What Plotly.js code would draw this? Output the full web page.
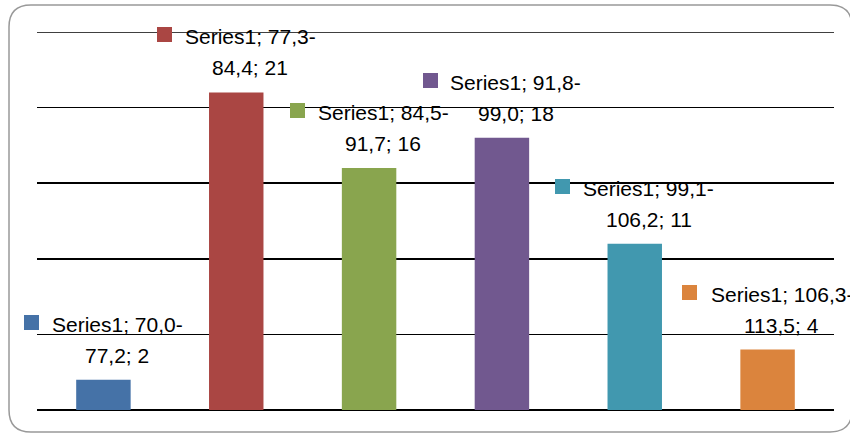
<!DOCTYPE html>
<html>
<head>
<meta charset="utf-8">
<script src="https://cdn.plot.ly/plotly-3.0.1.min.js"></script>
<style>html,body{margin:0;padding:0;background:#fff;}#chart{width:850px;height:436px;}</style>
</head>
<body>
<div id="chart"></div>
<script>
var seriesName = "Series1";
var categories = ["70,0-77,2", "77,3-84,4", "84,5-91,7", "91,8-99,0", "99,1-106,2", "106,3-113,5"];
var values = [2, 21, 16, 18, 11, 4];
var colors = ["#4572A7", "#AA4643", "#89A54E", "#71588F", "#4198AF", "#DB843D"];
var yMax = 25;

var FONT = "Liberation Sans";
var FS = 21;
var W = 850, H = 436;
var mL = 37, mR = 16, mT = 32, mB = 26;

var canvas = document.createElement("canvas");
var ctx = canvas.getContext("2d");
ctx.font = FS + "px '" + FONT + "'";

var xIdx = categories.map(function (c, i) { return i; });

var annotations = [];
var shapes = [];
categories.forEach(function (cat, i) {
  var dash = cat.indexOf("-");
  var line1 = seriesName + "; " + cat.slice(0, dash + 1);
  var line2 = cat.slice(dash + 1) + "; " + values[i];
  var w = ctx.measureText(line1).width;
  annotations.push({
    x: i, y: values[i], xref: "x", yref: "y", text: line1, showarrow: false,
    xanchor: "center", yanchor: "bottom", xshift: 14, yshift: 42,
    font: {family: FONT, size: FS, color: "#000"}
  });
  annotations.push({
    x: i, y: values[i], xref: "x", yref: "y", text: line2, showarrow: false,
    xanchor: "center", yanchor: "bottom", xshift: 14, yshift: 11,
    font: {family: FONT, size: FS, color: "#000"}
  });
  // legend key square
  annotations.push({
    x: i, y: values[i], xref: "x", yref: "y", text: " ", showarrow: false,
    xanchor: "right", yanchor: "bottom", xshift: 14 - w / 2 - 13, yshift: 50,
    width: 15, height: 15, borderpad: 0, borderwidth: 0, bgcolor: colors[i],
    font: {family: FONT, size: 10, color: colors[i]}
  });
});

// top gridline (at the axis maximum)
shapes.push({type: "line", xref: "paper", yref: "y", x0: 0, x1: 1, y0: yMax, y1: yMax,
  line: {color: "#000", width: 1.5}, layer: "below"});

// outer rounded border (pixel -> paper)
function px(x) { return (x - mL) / (W - mL - mR); }
function py(y) { return 1 - (y - mT) / (H - mT - mB); }
var bx0 = 9, by0 = 5, bx1 = 852, by1 = 432, r = 22;
var path = "M " + px(bx0 + r) + "," + py(by0) +
  " L " + px(bx1 - r) + "," + py(by0) +
  " Q " + px(bx1) + "," + py(by0) + " " + px(bx1) + "," + py(by0 + r) +
  " L " + px(bx1) + "," + py(by1 - r) +
  " Q " + px(bx1) + "," + py(by1) + " " + px(bx1 - r) + "," + py(by1) +
  " L " + px(bx0 + r) + "," + py(by1) +
  " Q " + px(bx0) + "," + py(by1) + " " + px(bx0) + "," + py(by1 - r) +
  " L " + px(bx0) + "," + py(by0 + r) +
  " Q " + px(bx0) + "," + py(by0) + " " + px(bx0 + r) + "," + py(by0) + " Z";
shapes.push({type: "path", xref: "paper", yref: "paper", path: path,
  line: {color: "#999999", width: 1.5}, layer: "below"});

var trace = {
  type: "bar", x: xIdx, y: values, marker: {color: colors, line: {width: 0}},
  hoverinfo: "none", cliponaxis: false
};

var layout = {
  width: W, height: H,
  margin: {l: mL, r: mR, t: mT, b: mB, pad: 0},
  paper_bgcolor: "#fff", plot_bgcolor: "rgba(0,0,0,0)",
  showlegend: false,
  bargap: 0.59,
  xaxis: {range: [-0.5, 5.5], showticklabels: false, showgrid: false, zeroline: false, ticks: "", fixedrange: true},
  yaxis: {range: [0, yMax], dtick: 5, tick0: 0, showticklabels: false, showgrid: true,
    gridcolor: "#000", gridwidth: 1.5, zeroline: true, zerolinecolor: "#000", zerolinewidth: 1.5, ticks: "", fixedrange: true, layer: "below traces"},
  annotations: annotations,
  shapes: shapes,
  font: {family: FONT, size: FS, color: "#000"}
};

Plotly.newPlot("chart", [trace], layout, {displayModeBar: false, staticPlot: true});
</script>
</body>
</html>
